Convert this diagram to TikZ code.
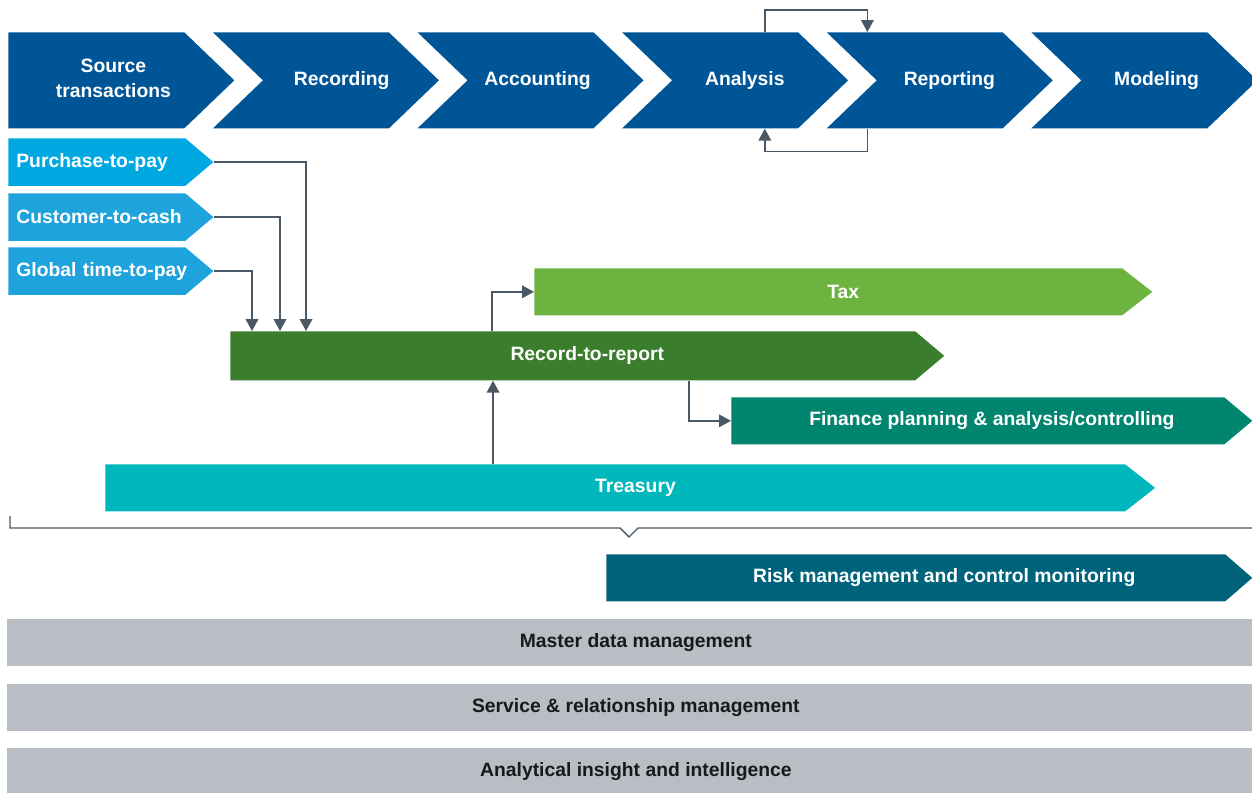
\documentclass[tikz,border=0pt]{standalone}
\usepackage{fontspec}
\setmainfont{Liberation Sans}
\usetikzlibrary{arrows.meta,calc}

\definecolor{stageblue}{HTML}{005596}
\definecolor{ptpblue}{HTML}{00A8E1}
\definecolor{ctcblue}{HTML}{1FA3DC}
\definecolor{rtrgreen}{HTML}{3A7D2C}
\definecolor{taxgreen}{HTML}{6DB33F}
\definecolor{fpagreen}{HTML}{00856F}
\definecolor{treasury}{HTML}{00B8BB}
\definecolor{riskteal}{HTML}{00637C}
\definecolor{bandgray}{HTML}{B8BEC4}
\definecolor{wirecol}{HTML}{4A5866}

\tikzset{
  % arrow shaped bar: fill, depth of the tip, depth of the notch
  bar/.style n args={3}{anchor=north west, inner sep=0pt, text=white,
    font=\bfseries\fontsize{11}{14}\selectfont,
    path picture={
      \fill[#1] (path picture bounding box.north west)
        -- ($(path picture bounding box.north east)+(-#2,0)$)
        -- (path picture bounding box.east)
        -- ($(path picture bounding box.south east)+(-#2,0)$)
        -- (path picture bounding box.south west)
        -- ($(path picture bounding box.west)+(#3,0)$) -- cycle;
    }},
  band/.style={anchor=north west, inner sep=0pt, fill=bandgray, text=black!90,
    minimum width=24.9cm, minimum height=0.94cm,
    font=\bfseries\fontsize{11}{14}\selectfont},
  % moves the label right by half the given space
  nudge/.style={execute at begin node={\hspace*{#1}}},
  wire/.style={draw=wirecol, line width=0.8pt,
    -{Triangle[length=6.8pt,width=7.2pt]}},
}

\begin{document}
\begin{tikzpicture}[x=0.02cm,y=-0.02cm]
\useasboundingbox (0,0) rectangle (1252,793);

% value chain along the top
\foreach \n/\i/\k/\s/\t in {src/0/0/-9pt/{\begin{tabular}{@{}c@{}}Source\\transactions\end{tabular}},
    rec/1/50/18pt/Recording, acc/2/50/8pt/Accounting, ana/3/50/11pt/Analysis,
    rep/4/50/11pt/Reporting, mod/5/50/14pt/Modeling}
  \node[bar={stageblue}{50}{\k}, minimum width=4.52cm, minimum height=1.92cm,
    nudge=\s] (\n) at (8+204.6*\i,32) {\t};

% feeder processes
\node[bar={ptpblue}{28}{0}, minimum height=0.95cm, inner xsep=0.16cm,
  text width=3.78cm, align=left] (p2p) at (8,138) {Purchase-to-pay};
\node[bar={ctcblue}{28}{0}, minimum height=0.95cm, inner xsep=0.16cm,
  text width=3.78cm, align=left] (c2c) at (8,193) {Customer-to-cash};
\node[bar={ctcblue}{28}{0}, minimum height=0.95cm, inner xsep=0.16cm,
  text width=3.78cm, align=left] (gtp) at (8,247) {Global time-to-pay};

\node[bar={taxgreen}{30}{0}, minimum width=12.36cm, minimum height=0.94cm] (tax) at (534,268) {Tax};
\node[bar={rtrgreen}{29}{0}, minimum width=14.28cm, minimum height=0.98cm] (r2r) at (230,331) {Record-to-report};
\node[bar={fpagreen}{28}{0}, minimum width=10.42cm, minimum height=0.94cm] (fpa) at (731,397) {Finance planning \& analysis/controlling};
\node[bar={treasury}{30}{0}, minimum width=21cm, minimum height=0.94cm, nudge=6pt] (tre) at (105,464) {Treasury};
\node[bar={riskteal}{27}{0}, minimum width=12.92cm, minimum height=0.94cm, nudge=17pt] (rsk) at (606,554) {Risk management and control monitoring};

\node[band, nudge=7pt] (mdm) at (7,619) {Master data management};
\node[band, nudge=7pt] (srm) at (7,684) {Service \& relationship management};
\node[band, nudge=7pt, minimum height=0.92cm] (aii) at (7,748) {Analytical insight and intelligence};

% analysis <-> reporting loop
\coordinate (ana-top) at ($(ana.north west)+(143,0)$);
\coordinate (rep-top) at ($(rep.north west)+(41,0)$);
\coordinate (rep-bot) at ($(rep.south west)+(41,0)$);
\coordinate (ana-bot) at ($(ana.south west)+(143,0)$);
\draw[wire] (ana-top) -- ++(0,-22) -| (rep-top);
\draw[wire] (rep-bot) -- ++(0,23) -| (ana-bot);

% feeders into record-to-report
\draw[wire] (p2p.east) -| ($(r2r.north west)+(76,0)$);
\draw[wire] (c2c.east) -| ($(r2r.north west)+(50,0)$);
\draw[wire] (gtp.east) -| ($(r2r.north west)+(22,0)$);

\coordinate (r2r-up) at ($(r2r.north west)+(262,0)$);
\coordinate (r2r-dn) at ($(r2r.south west)+(459,0)$);
\coordinate (tre-up) at ($(tre.north west)+(388,0)$);
\draw[wire] (r2r-up) |- (tax.west);
\draw[wire] (r2r-dn) |- (fpa.west);
\draw[wire] (tre-up) -- (tre-up |- r2r.south);

% bracket over risk management
\draw[wirecol, line width=0.8pt] (10,516) -- (10,528) -- (620,528) -- (629,537)
  -- (638,528) -- (1252,528);
\end{tikzpicture}
\end{document}
